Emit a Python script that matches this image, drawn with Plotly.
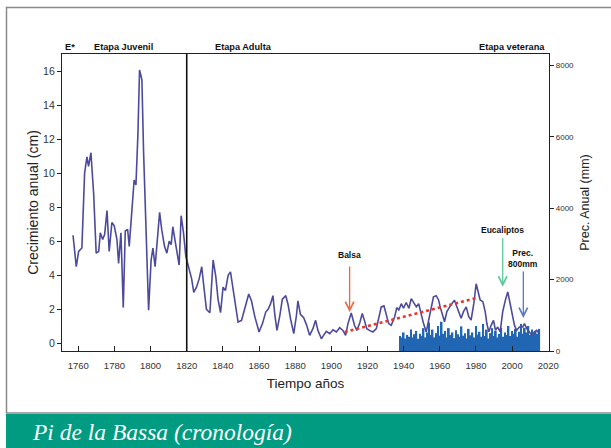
import plotly.graph_objects as go

# ---------------- data ----------------
growth_year = [1757.1, 1758.9, 1760.2, 1762.0, 1763.5, 1764.8, 1765.7, 1767.0, 1768.5, 1769.9,
               1771.3, 1772.2, 1773.5, 1774.6, 1775.9, 1777.1, 1778.6, 1779.9, 1781.4, 1782.3,
               1783.6, 1784.9, 1786.0, 1787.3, 1788.2, 1789.7, 1790.9, 1791.9, 1793.0, 1793.9,
               1795.2, 1796.1, 1797.4, 1798.9, 1800.3, 1801.3, 1802.5, 1803.9, 1805.0, 1806.2,
               1807.7, 1809.0, 1810.3, 1811.4, 1812.3, 1813.6, 1814.5, 1815.8, 1816.9, 1818.2,
               1819.5, 1820.8, 1822.7, 1823.9, 1825.4, 1826.9, 1828.3, 1829.4, 1830.9, 1832.8,
               1834.6, 1836.1, 1837.3, 1838.7, 1840.1, 1841.4, 1842.9, 1844.2, 1845.6, 1847.1,
               1848.4, 1850.3, 1852.1, 1854.3, 1855.8, 1857.6, 1860.0, 1861.9, 1863.7, 1865.0,
               1866.3, 1867.7, 1868.7, 1869.9, 1871.4, 1872.9, 1874.8, 1876.0, 1877.5, 1879.2,
               1880.7, 1881.5, 1882.9, 1884.7, 1886.2, 1888.0, 1889.8, 1891.3, 1892.5, 1894.5,
               1895.7, 1897.2, 1899.1, 1900.9, 1902.8, 1904.6, 1906.4, 1907.9, 1909.2, 1911.0,
               1912.8, 1914.1, 1915.6, 1917.1, 1918.3, 1919.6, 1921.1, 1923.0, 1924.9, 1926.3,
               1927.6, 1929.1, 1930.4, 1931.7, 1933.1, 1935.0, 1936.2, 1937.3, 1938.7, 1939.9,
               1941.4, 1942.9, 1944.2, 1945.5, 1947.0, 1948.3, 1949.7, 1951.0, 1952.5, 1953.9,
               1955.2, 1956.5, 1958.0, 1959.3, 1960.2, 1961.3, 1962.6, 1963.9, 1965.4, 1966.6,
               1968.1, 1969.4, 1970.5, 1971.8, 1973.1, 1974.6, 1976.0, 1977.3, 1978.8, 1980.1,
               1981.4, 1982.3, 1983.8, 1985.1, 1986.0, 1987.1, 1988.4, 1989.7, 1990.8, 1992.0,
               1993.4, 1994.8, 1996.3, 1997.6, 1998.9, 2000.0, 2001.3, 2002.5, 2004.0, 2005.9,
               2006.8, 2008.1, 2009.6, 2011.0, 2012.3, 2013.6, 2015.1]
growth_cm = [6.35, 4.5, 5.4, 5.6, 10.0, 10.96, 10.4, 11.2, 8.8, 5.3,
             5.4, 6.5, 6.1, 6.4, 7.8, 5.4, 7.1, 6.9, 6.1, 4.7,
             6.5, 2.1, 6.6, 6.7, 5.7, 8.0, 9.6, 9.3, 12.3, 16.06,
             15.5, 11.35, 6.45, 1.94, 4.9, 5.6, 4.5, 6.1, 7.7, 6.65,
             5.7, 5.3, 6.0, 5.8, 6.85, 6.0, 5.3, 4.6, 7.5, 6.5,
             5.1, 4.6, 3.8, 3.0, 3.3, 3.8, 4.5, 3.4, 2.0, 1.8,
             4.9, 3.9, 2.6, 1.8, 3.3, 3.1, 4.0, 4.2, 3.3, 2.1,
             1.25, 1.35, 2.1, 2.9, 2.5, 1.6, 0.67, 1.16, 1.84, 2.0,
             2.3, 2.8, 1.7, 0.76, 1.57, 2.6, 2.8, 2.3, 1.4, 0.57,
             1.65, 2.5, 1.7, 1.5, 1.1, 0.47, 0.86, 1.35, 0.78, 0.27,
             0.47, 0.7, 0.57, 0.8, 0.67, 0.92, 0.76, 0.47, 1.16, 1.78,
             1.06, 0.76, 1.16, 1.75, 1.35, 0.86, 0.76, 0.67, 0.86, 1.45,
             2.14, 2.2, 1.65, 1.16, 1.06, 1.55, 2.1, 1.96, 2.33, 2.06,
             2.4, 2.06, 2.63, 2.43, 2.14, 2.33, 1.65, 1.16, 0.67, 1.35,
             1.96, 2.73, 2.8, 2.55, 2.14, 1.75, 1.27, 1.86, 2.14, 2.33,
             2.53, 2.14, 1.75, 1.47, 1.86, 2.14, 1.57, 1.37, 2.33, 3.5,
             2.94, 2.55, 2.45, 1.86, 1.18, 0.67, 1.06, 1.35, 0.76, 0.96,
             0.67, 1.86, 2.55, 3.02, 2.33, 1.75, 1.06, 0.76, 0.96, 0.96,
             1.16, 0.86, 0.67, 0.47, 0.67, 0.76, 0.57]

prec_year = list(range(1938, 2016))
prec_mm = [420, 380, 520, 350, 450, 400, 600, 380, 470, 560,
           340, 480, 420, 640, 380, 520, 800, 450, 600, 380,
           500, 700, 430, 820, 480, 560, 380, 640, 450, 520,
           360, 580, 470, 400, 690, 430, 500, 350, 620, 440,
           520, 380, 700, 460, 540, 400, 760, 420, 600, 350,
           500, 640, 420, 560, 380, 480, 650, 400, 520, 450,
           700, 420, 560, 480, 620, 400, 540, 760, 480, 650,
           520, 700, 450, 600, 500, 560, 480, 620]

trend_year = [1907.4, 1980.8]
trend_cm = [0.67, 2.68]

stage_labels = ["E*", "Etapa Juvenil", "Etapa Adulta", "Etapa veterana"]
stage_boundary_year = 1820

event_labels = ["Balsa", "Eucaliptos", "Prec.<br>800mm"]
event_year = [1910.1, 1994.8, 2006.2]
event_tip_cm = [1.84, 3.33, 1.49]
event_colors = ["#f2673a", "#5cc79b", "#5a78c8"]

x_ticks = list(range(1760, 2021, 20))
left_ticks = list(range(0, 17, 2))
right_ticks = [0, 2000, 4000, 6000, 8000]

caption = "Pi de la Bassa (cronología)"

# ---------------- layout geometry (pixels) ----------------
W, H = 611, 448
PL, PR, PT, PB = 62, 549, 54, 351
pw, ph = PR - PL, PB - PT


def px(x):
    return (x - PL) / pw


def py(y):
    return (PB - y) / ph


FONT = "Liberation Sans, Arial, sans-serif"
AX = "#222222"

fig = go.Figure()

fig.add_trace(go.Bar(x=prec_year, y=prec_mm, marker=dict(color="#2166b3", line=dict(width=0)),
                     yaxis="y", xaxis="x", showlegend=False))
fig.add_trace(go.Scatter(x=growth_year, y=growth_cm, mode="lines",
                         line=dict(color="#4c4a9c", width=1.6), yaxis="y2", showlegend=False))
fig.add_trace(go.Scatter(x=trend_year, y=trend_cm, mode="lines",
                         line=dict(color="#e8342a", width=2.6, dash="dot"), yaxis="y2", showlegend=False))

fig.update_layout(
    width=W, height=H,
    margin=dict(l=PL, r=W - PR, t=PT, b=H - PB),
    paper_bgcolor="white", plot_bgcolor="white",
    bargap=0.05,
    font=dict(family=FONT, color="#333333"),
    xaxis=dict(range=[1751, 2020.4], tickvals=x_ticks, ticks="inside", ticklen=5, tickwidth=1,
               tickcolor=AX, showline=True, linecolor=AX, linewidth=1.3, mirror=True,
               showgrid=False, zeroline=False, tickfont=dict(size=9.5, color="#333"),
               ticklabelstandoff=5,
               title=dict(text="Tiempo años", font=dict(size=13.5, color="#222"), standoff=9)),
    yaxis=dict(side="right", range=[0, 8320], tickvals=right_ticks, ticks="outside", ticklen=4,
               tickcolor=AX, showline=True, linecolor=AX, linewidth=1.3, showgrid=False,
               zeroline=False, tickfont=dict(size=8, color="#333"),
               title=dict(text="Prec. Anual (mm)", font=dict(size=12.5, color="#222"), standoff=7)),
    yaxis2=dict(side="left", overlaying="y", range=[-0.45, 17.0], tickvals=left_ticks,
                ticks="outside", ticklen=4, tickcolor=AX, showline=True, linecolor=AX,
                linewidth=1.3, showgrid=False, zeroline=False, tickfont=dict(size=10.5, color="#333"),
                title=dict(text="Crecimiento anual (cm)", font=dict(size=14, color="#222"), standoff=1)),
)

# stage boundary
fig.add_shape(type="line", xref="x", yref="paper", x0=stage_boundary_year, x1=stage_boundary_year,
              y0=0, y1=1, line=dict(color="#111111", width=1.6))

# stage labels
stage_x = [63, 92, 213, 547]
stage_anchor = ["left", "left", "left", "right"]
for lab, sx, anc in zip(stage_labels, stage_x, stage_anchor):
    fig.add_annotation(xref="paper", yref="paper", x=px(sx), y=py(47), text="<b>%s</b>" % lab,
                       showarrow=False, xanchor=anc, yanchor="middle",
                       font=dict(family=FONT, size=9.2, color="#111"))

# event arrows and labels
tail_px = [47, 50, 48]
label_offset = [50, 50, 47]
for lab, ex, ey, col, tp, lo in zip(event_labels, event_year, event_tip_cm, event_colors, tail_px, label_offset):
    fig.add_annotation(xref="x", yref="y2", x=ex, y=ey, ax=0, ay=-tp, text="", showarrow=True,
                       arrowhead=5, arrowsize=1.3, arrowwidth=1.3, arrowcolor=col, standoff=0)
    fig.add_annotation(xref="x", yref="y2", x=ex, y=ey, yshift=lo, text="<b>%s</b>" % lab,
                       showarrow=False, yanchor="bottom",
                       font=dict(family=FONT, size=8.5, color="#111"))

# outer frame and caption band
fig.add_shape(type="rect", xref="paper", yref="paper", x0=px(6.5), x1=px(640), y0=py(413), y1=py(7.5),
              line=dict(color="#8a8a8a", width=1.5), fillcolor="rgba(0,0,0,0)")
fig.add_shape(type="rect", xref="paper", yref="paper", x0=px(6), x1=px(640), y0=py(460), y1=py(414),
              line=dict(width=0), fillcolor="#009b80")
fig.add_annotation(xref="paper", yref="paper", x=px(30), y=py(432), text="<i>%s</i>" % caption,
                   showarrow=False, xanchor="left", yanchor="middle",
                   font=dict(family="Liberation Serif, Times New Roman, serif", size=23.5, color="white"))

fig.write_html("out.html", config={"displayModeBar": False},
               post_script="document.body.style.margin='0';")
